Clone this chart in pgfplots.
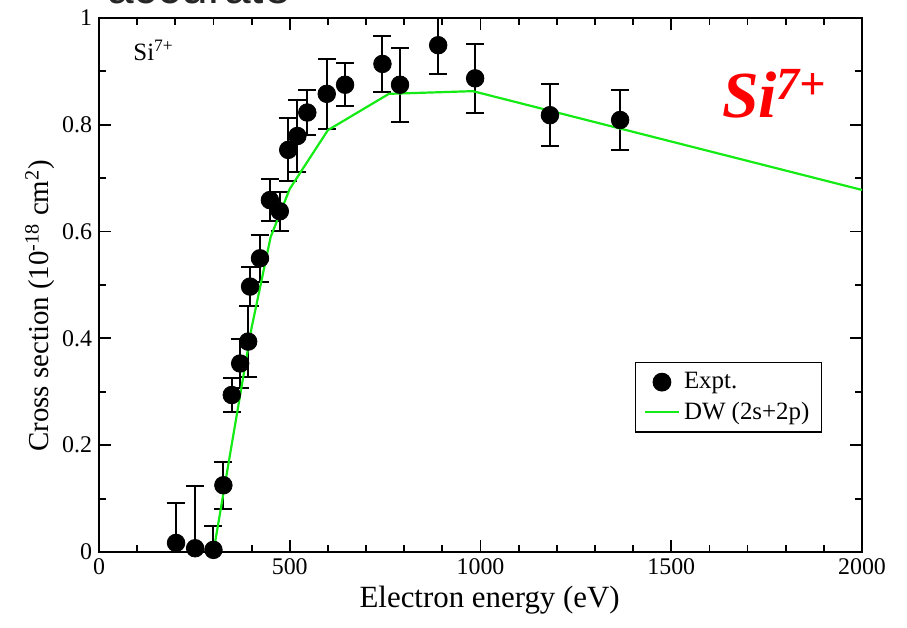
\documentclass[border=0pt]{standalone}
\usepackage{pgfplots}
\pgfplotsset{compat=1.18}
\usepackage{fontspec}
\setmainfont{Liberation Serif}
\newfontfamily\sansf{Liberation Sans}
\definecolor{dwgreen}{RGB}{20,235,20}
\begin{document}
\begin{tikzpicture}
\begin{axis}[
  name=ax,
  at={(0,0)}, anchor=south west,
  scale only axis, width=381.5bp, height=267bp,
  xmin=0, xmax=2000, ymin=0, ymax=1,
  xtick={0,500,1000,1500,2000}, minor x tick num=4,
  ytick={0,0.2,0.4,0.6,0.8,1}, minor y tick num=1,
  tick align=inside, major tick length=6bp, minor tick length=3.5bp,
  axis line style={line width=1bp},
  every tick/.style={black, line width=0.9bp},
  /pgf/number format/assume math mode=true,
  /pgf/number format/1000 sep={},
  ticklabel style={font=\fontsize{12}{13}\selectfont},
  xlabel={Electron energy (eV)},
  ylabel={Cross section (10\textsuperscript{-18} cm\textsuperscript{2})},
  xlabel style={font=\fontsize{15.5}{17}\selectfont, at={(axis description cs:0.512,0)}, anchor=north, yshift=-17bp, inner sep=0pt},
  ylabel style={font=\fontsize{14.5}{16}\selectfont, at={(axis description cs:-0.057,0.461)}, anchor=south, inner sep=0pt},
  legend style={at={(0.9476,0.356)}, anchor=north east, draw=black, line width=0.6bp,
    font=\fontsize{12.5}{14}\selectfont, row sep=1bp, inner xsep=4bp, inner ysep=3bp,
    cells={anchor=west}},
  legend cell align=left,
]
\addplot[only marks, mark=*, mark size=4.4bp, black,
  error bars/.cd, y dir=both, y explicit,
  error bar style={line width=1bp},
  error mark options={rotate=90, mark size=4.5bp, line width=1bp}]
  table[x=x, y=y, y error=e] {
x     y      e
202   0.017  0.075
252   0.007  0.117
300   0.004  0.045
326   0.125  0.044
348   0.294  0.031
370   0.353  0.045
391   0.394  0.066
396   0.497  0.037
422   0.550  0.044
448   0.659  0.039
474   0.638  0.036
496   0.753  0.059
520   0.779  0.067
546   0.823  0.042
597   0.858  0.066
645   0.875  0.040
743   0.914  0.053
789   0.875  0.069
889   0.949  0.053
986   0.887  0.064
1182  0.818  0.058
1366  0.809  0.057
};
\addlegendentry{Expt.}
\addplot[color=dwgreen, line width=1.1bp] coordinates {
(300,0) (350,0.21) (400,0.42) (450,0.59) (500,0.68) (600,0.79) (760,0.858) (980,0.863) (2000,0.678)
};
\addlegendentry{DW (2s+2p)}
\node[anchor=base west, font=\fontsize{12.5}{14}\selectfont, inner sep=0pt] at (rel axis cs:0.0446,0.921) {Si\textsuperscript{7+}};
\node[anchor=base west, font=\fontsize{33}{36}\selectfont\bfseries\itshape, text=red, inner sep=0pt] at (rel axis cs:0.816,0.813) {Si\textsuperscript{7+}};
\end{axis}
\node[anchor=base west, font=\sansf\fontsize{24}{28}\selectfont, text=black!85, inner sep=0pt] at (4bp,274bp) {accurate};
\pgfresetboundingbox
\path[use as bounding box] (-49.5bp,-38bp) rectangle (404bp,276bp);
\end{tikzpicture}
\end{document}
